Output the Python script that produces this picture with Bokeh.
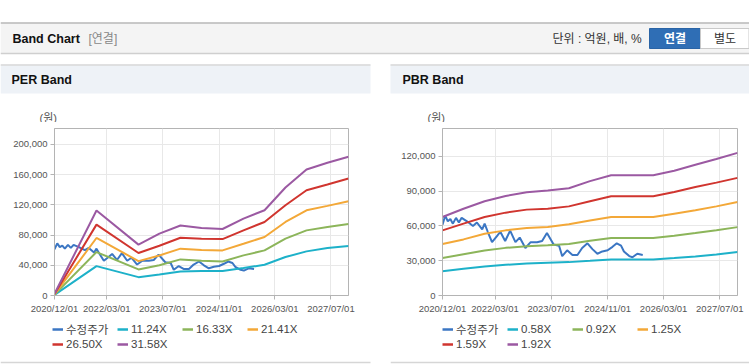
import datetime as dt
import pandas as pd
from bokeh.plotting import figure
from bokeh.models import (Range1d, FixedTicker, DatetimeTickFormatter, NumeralTickFormatter,
                          Legend, LegendItem)
from bokeh.layouts import column, row
from bokeh.embed import file_html
from bokeh.resources import INLINE
from bokeh.core.properties import value

# ---------------- data ----------------
x_tick_labels = ["2020/12/01", "2022/03/01", "2023/07/01", "2024/11/01", "2026/03/01", "2027/07/01"]
x_start = "2020-12-01"
x_end = "2027-12-01"

price_name = "수정주가"
price_dates = ["2020-12-01", "2020-12-25", "2021-01-16", "2021-02-07", "2021-03-01", "2021-03-28",
               "2021-04-22", "2021-05-16", "2021-07-01", "2021-08-22", "2021-09-25", "2021-11-10",
               "2021-12-01", "2021-12-28", "2022-02-03", "2022-03-16", "2022-04-16", "2022-05-28",
               "2022-07-10", "2022-08-25", "2022-10-01", "2022-11-19", "2023-01-04", "2023-03-01",
               "2023-04-13", "2023-05-25", "2023-07-22", "2023-09-07", "2023-10-04", "2023-11-16",
               "2024-01-01", "2024-02-13", "2024-03-25", "2024-05-10", "2024-06-22", "2024-08-04",
               "2024-09-16", "2024-11-01", "2024-12-13", "2025-01-19", "2025-02-25", "2025-03-22",
               "2025-05-07", "2025-06-04", "2025-07-16", "2025-09-01"]
price_values = [61000, 69000, 64000, 66000, 62000, 67000, 63000, 67000, 64000, 60000,
                63000, 57000, 62000, 55000, 46000, 51000, 55000, 47000, 56000, 46000,
                50000, 41000, 46000, 46000, 47000, 54000, 44000, 43000, 34000, 39000,
                35000, 35000, 41000, 45000, 40000, 36000, 38000, 39000, 42000, 45000,
                43000, 38000, 34000, 33000, 36000, 35000]

per_dates = ["2020-12-01", "2021-12-01", "2022-12-01", "2023-06-01", "2023-12-01", "2024-06-01",
             "2024-12-01", "2025-06-01", "2025-12-01", "2026-06-01", "2026-12-01", "2027-06-01",
             "2027-12-01"]
per_names = ["11.24X", "16.33X", "21.41X", "26.50X", "31.58X"]
per_1124 = [800, 38900, 24300, 27900, 31900, 32300, 32300, 36300, 40700, 50900, 58400, 62900, 65500]
per_1633 = [1200, 57500, 34500, 40000, 47800, 46000, 45100, 53100, 59700, 75200, 86200, 90700, 94600]
per_2141 = [1500, 76100, 45500, 53000, 62000, 60200, 59700, 68500, 77400, 97300, 112800, 118600, 124800]
per_2650 = [1900, 93800, 56200, 65900, 76500, 75200, 74700, 86200, 97300, 119400, 139300, 146800, 154800]
per_3158 = [2300, 112400, 67300, 81900, 92700, 89300, 88000, 101800, 112800, 142900, 166800, 175600, 183600]
per_yticks = [0, 40000, 80000, 120000, 160000, 200000]
per_ymax = 221000

pbr_dates = ["2020-12-01", "2021-06-01", "2021-12-01", "2022-06-01", "2022-12-01", "2023-06-01",
             "2023-12-01", "2024-06-01", "2024-12-01", "2025-06-01", "2025-12-01", "2026-06-01",
             "2026-12-01", "2027-06-01", "2027-12-01"]
pbr_names = ["0.58X", "0.92X", "1.25X", "1.59X", "1.92X"]
pbr_058 = [21000, 23000, 25000, 26500, 27600, 28200, 28800, 29900, 31100, 31100, 31100, 32300, 33700, 35400, 37500]
pbr_092 = [32300, 35600, 38900, 41100, 42600, 43300, 44400, 47200, 49600, 49600, 49600, 51500, 53900, 56400, 59000]
pbr_125 = [44400, 48400, 53300, 56200, 58200, 59100, 61400, 64800, 67700, 67700, 67700, 70600, 73500, 76900, 80700]
pbr_159 = [56200, 62000, 67700, 71500, 74100, 74900, 76900, 81300, 85600, 85600, 85600, 89300, 93700, 97400, 101500]
pbr_192 = [67700, 74900, 81300, 85900, 89000, 90500, 92500, 98700, 103700, 103700, 103700, 107700, 112800, 117800, 123100]
pbr_yticks = [0, 30000, 60000, 90000, 120000]
pbr_ymax = 144100

# ---------------- styles ----------------
PRICE_COLOR = "#3b76c3"
BAND_COLORS = ["#1db1c9", "#8cb55a", "#f3a838", "#d0352f", "#9b59a2"]
FONT = "Liberation Sans"
KFONT = "Liberation Sans, Noto Sans CJK KR"
GRID = "#e8e8e8"
FRAME = "#b4b4b4"


def to_ms(label):
    d = dt.datetime.strptime(label, "%Y/%m/%d").replace(tzinfo=dt.timezone.utc)
    return d.timestamp() * 1000.0


x_ticks_ms = [to_ms(t) for t in x_tick_labels]
fmt = "%Y/%m/%d"


def make_chart(width, bl, br, band_dates, bands, yticks, ymax):
    p = figure(width=width, height=200, x_axis_type="datetime",
               x_range=Range1d(pd.Timestamp(x_start), pd.Timestamp(x_end)),
               y_range=Range1d(0, ymax),
               output_backend="svg", toolbar_location=None, title=None,
               min_border_left=bl, min_border_right=br, min_border_top=6, min_border_bottom=27,
               outline_line_color=FRAME, background_fill_color="#ffffff",
               border_fill_color="#ffffff")
    p.xaxis.ticker = FixedTicker(ticks=x_ticks_ms)
    p.xaxis.formatter = DatetimeTickFormatter(
        milliseconds=fmt, seconds=fmt, minsec=fmt, minutes=fmt, hourmin=fmt,
        hours=fmt, days=fmt, months=fmt, years=fmt)
    p.yaxis.ticker = FixedTicker(ticks=yticks)
    p.yaxis.formatter = NumeralTickFormatter(format="0,0")
    for ax in (p.xaxis, p.yaxis):
        ax.axis_line_color = FRAME
        ax.major_tick_line_color = FRAME
        ax.major_tick_out = 4
        ax.major_tick_in = 0
        ax.minor_tick_line_color = None
        ax.major_label_text_font = FONT
        ax.major_label_text_font_size = "9.5px"
        ax.major_label_text_color = "#555555"
        ax.major_label_standoff = 3
    p.xgrid.grid_line_color = GRID
    p.ygrid.grid_line_color = GRID

    p.line(x=pd.to_datetime(price_dates), y=price_values, line_color=PRICE_COLOR, line_width=2)
    xs = pd.to_datetime(band_dates)
    for ys, c in zip(bands, BAND_COLORS):
        p.line(x=xs, y=ys, line_color=c, line_width=2)
    return p


def make_legend(width, names, lx, panel_right):
    p = figure(width=width, height=42, x_range=Range1d(0, width), y_range=Range1d(42, 0),
               output_backend="svg", toolbar_location=None, x_axis_location=None,
               y_axis_location=None, min_border=0, outline_line_color=None,
               background_fill_color="#ffffff", border_fill_color="#ffffff")
    p.grid.visible = False
    # bottom border of the panel
    p.segment(x0=[0], y0=[40], x1=[panel_right], y1=[40], line_color="#d6d6d6", line_width=1.5)
    labels = [price_name] + names
    colors = [PRICE_COLOR] + BAND_COLORS
    items = []
    for lab, c in zip(labels, colors):
        # off-range placeholder so the legend can draw the line swatch
        r = p.line(x=[-50, -40], y=[-50, -40], line_color=c, line_width=2.5)
        items.append(LegendItem(label=lab, renderers=[r]))
    for its, vy in ((items[:4], 27), (items[4:], 13)):
        leg = Legend(items=its, location=(lx, vy), orientation="horizontal",
                     background_fill_alpha=0, border_line_color=None, padding=0, margin=0,
                     spacing=3, glyph_width=11, glyph_height=14, label_height=14,
                     label_width=48, label_standoff=3, label_text_font=KFONT,
                     label_text_font_size="11.5px", label_text_color="#444444")
        p.add_layout(leg)
    return p


# ---------------- header ----------------
top = figure(width=749, height=122, x_range=Range1d(0, 749), y_range=Range1d(122, 0),
             output_backend="svg", toolbar_location=None, x_axis_location=None,
             y_axis_location=None, min_border=0, outline_line_color=None,
             background_fill_color="#ffffff", border_fill_color="#ffffff")
top.grid.visible = False
top.quad(left=[0], right=[749], top=[22], bottom=[53], fill_color="#f4f4f4", line_color=None)
top.segment(x0=[0], y0=[22.5], x1=[749], y1=[22.5], line_color="#b9b9b9", line_width=1.5)
top.segment(x0=[0], y0=[53], x1=[749], y1=[53], line_color="#cfcfcf", line_width=1.5)
top.quad(left=[649], right=[700], top=[28], bottom=[48], fill_color="#2f6eb5", line_color="#2a64a6")
top.quad(left=[700], right=[748.5], top=[28], bottom=[48], fill_color="#ffffff", line_color="#c9c9c9")
top.quad(left=[0, 390], right=[370, 749], top=[64, 64], bottom=[93, 93],
         fill_color="#eef2f7", line_color=None)
top.segment(x0=[0, 390], y0=[64.5, 64.5], x1=[370, 749], y1=[64.5, 64.5],
            line_color="#d9d9d9", line_width=1.5)

top.text(x=[12], y=[38.5], text=["Band Chart"], text_font=value(FONT), text_font_style="bold",
         text_font_size="12.5px", text_color="#111111", text_baseline="middle")
top.text(x=[88], y=[38.5], text=["[연결]"], text_font=value(KFONT),
         text_font_size="12px", text_color="#888888", text_baseline="middle")
top.text(x=[552], y=[38.5], text=["단위 : 억원, 배, %"], text_font=value(KFONT),
         text_font_size="12px", text_color="#333333", text_baseline="middle")
top.text(x=[674.5], y=[38.5], text=["연결"], text_font=value(KFONT), text_font_style="bold",
         text_font_size="12px", text_color="#ffffff", text_baseline="middle", text_align="center")
top.text(x=[724.5], y=[38.5], text=["별도"], text_font=value(KFONT),
         text_font_size="12px", text_color="#333333", text_baseline="middle", text_align="center")
top.text(x=[11, 402], y=[79, 79], text=["PER Band", "PBR Band"], text_font=value(FONT),
         text_font_style="bold", text_font_size="12.5px", text_color="#111111",
         text_baseline="middle")
top.text(x=[39, 427], y=[117, 117], text=["(원)", "(원)"], text_font=value(KFONT),
         text_font_size="11px", text_color="#555555", text_baseline="middle")

# ---------------- charts ----------------
left = make_chart(390, 54, 42, per_dates, [per_1124, per_1633, per_2141, per_2650, per_3158],
                  per_yticks, per_ymax)
right = make_chart(359, 52, 12, pbr_dates, [pbr_058, pbr_092, pbr_125, pbr_159, pbr_192],
                   pbr_yticks, pbr_ymax)
left_leg = make_legend(390, per_names, 52, 370)
right_leg = make_legend(359, pbr_names, 52, 359)

page = column(top, row(left, right, spacing=0), row(left_leg, right_leg, spacing=0), spacing=0)
open("out.html", "w").write(file_html(page, INLINE))
